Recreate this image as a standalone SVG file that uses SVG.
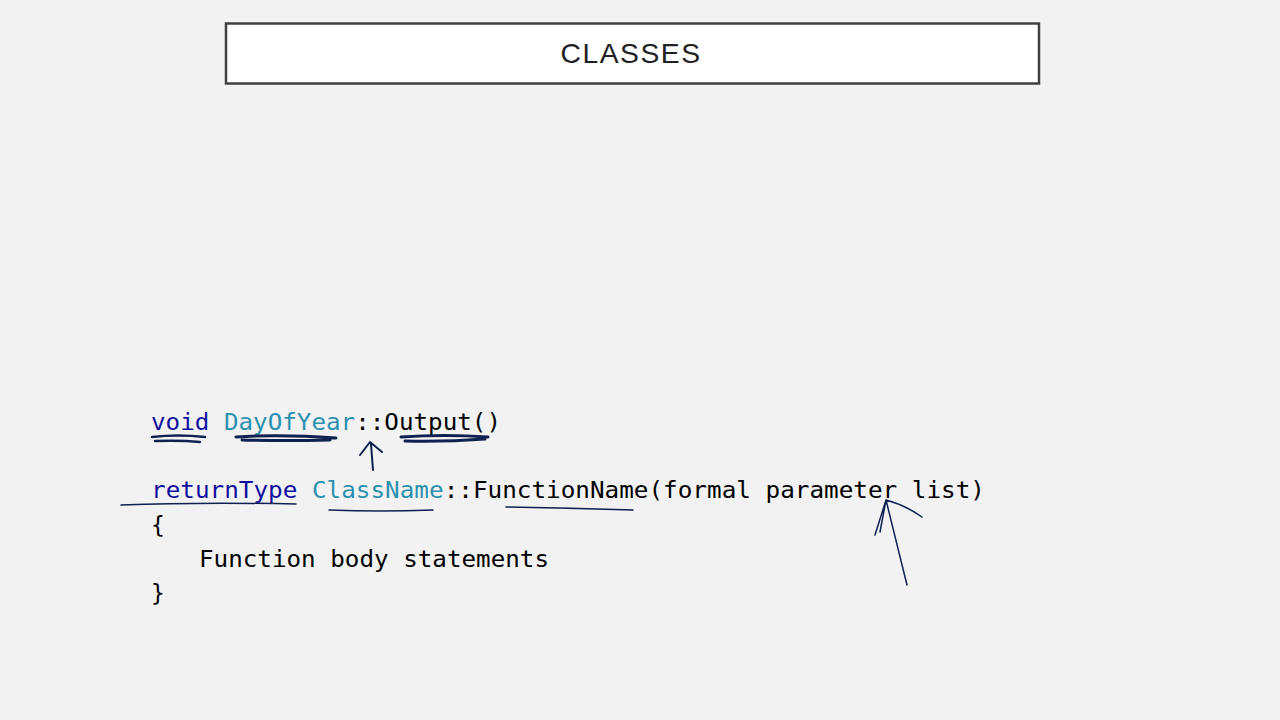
<svg xmlns="http://www.w3.org/2000/svg" width="1280" height="720" viewBox="0 0 1280 720">
<style>
.c{font-family:"DejaVu Sans Mono","Liberation Mono",monospace;font-size:23px;fill:#000}
.k{fill:#1010a0}.t{fill:#2b91af}
.ink{fill:none;stroke:#0f2150;stroke-linecap:round;stroke-linejoin:round}
</style>
<rect width="1280" height="720" fill="#f2f2f2"/>
<g id="title">
<rect x="226" y="23.5" width="813" height="60" fill="#fff" stroke="#404040" stroke-width="2.5"/>
<text x="631" y="63" text-anchor="middle" font-family="Liberation Sans,Arial,sans-serif" font-size="28" letter-spacing="1.5" fill="#222" textLength="141" lengthAdjust="spacingAndGlyphs">CLASSES</text>
</g>
<g id="code">
<text class="c" x="151" y="430" textLength="350" lengthAdjust="spacingAndGlyphs"><tspan class="k">void</tspan> <tspan class="t">DayOfYear</tspan>::Output()</text>
<text class="c" x="151" y="498" textLength="834" lengthAdjust="spacingAndGlyphs"><tspan class="k">returnType</tspan> <tspan class="t">ClassName</tspan>::FunctionName(formal parameter list)</text>
<text class="c" x="151" y="533">{</text>
<text class="c" x="199" y="567" textLength="350" lengthAdjust="spacingAndGlyphs">Function body statements</text>
<text class="c" x="151" y="601">}</text>
</g>
<g id="ink">
<path class="ink" stroke-width="2.5" d="M152 437 Q178 434 205 437 M155 441 Q180 440 200 442"/>
<path class="ink" stroke-width="3" d="M236 437 Q280 434 336 438 M242 440 Q285 441 330 440"/>
<path class="ink" stroke-width="3" d="M401 437 Q445 434 488 437 M405 441 Q445 442 485 439"/>
<path class="ink" stroke-width="2" d="M373 470 L371 444 M360 455 L370 442 L382 452"/>
<path class="ink" stroke-width="1.5" d="M121 505 Q200 502 296 504"/>
<path class="ink" stroke-width="1.5" d="M329 510 Q380 512 433 510"/>
<path class="ink" stroke-width="1.5" d="M506 507 Q570 508 633 510"/>
<path class="ink" stroke-width="1.5" d="M907 585 L886 500 L875 535 M886 500 L880 532 M886 500 Q905 505 922 517"/>
</g>
</svg>
